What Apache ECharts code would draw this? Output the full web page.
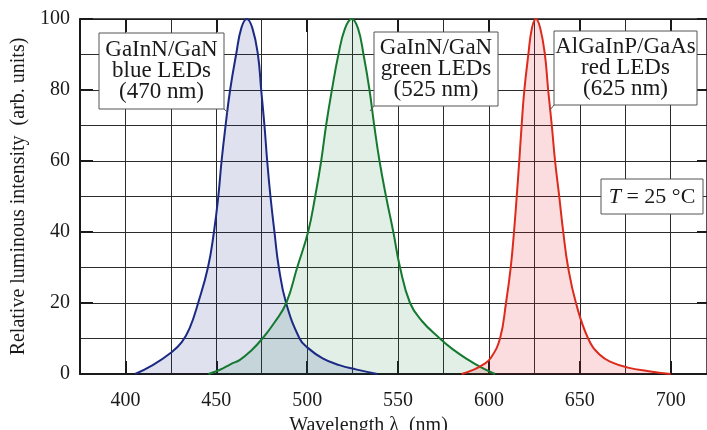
<!DOCTYPE html>
<html>
<head>
<meta charset="utf-8">
<script src="https://cdn.jsdelivr.net/npm/echarts@6/dist/echarts.min.js"></script>
<style>
  html, body { margin: 0; padding: 0; background: #fff; }
  #chart { width: 707px; height: 430px; }
</style>
</head>
<body>
<div id="chart"></div>
<script>
  // wavelength (nm) / relative intensity
  const blueWl = [405.3, 415, 425, 431, 435.4, 440, 445.4, 448.7, 451.1, 452.9, 455.1, 457.6, 460.9, 463.8, 466.8, 469.8, 472.9, 474.7, 476.5, 478, 479.8, 482, 484.4, 488.4, 495.8, 500, 508.5, 517.7, 526.8, 538.7]
  const blueInt = [0, 2.5, 6, 9, 13, 20, 30, 40, 50, 60, 70, 80, 90, 97.5, 100, 97.5, 90, 80, 70, 60, 50, 40, 30, 20, 10, 7.5, 4.4, 2.5, 1.3, 0]

  const greenWl = [445.7, 452, 458, 463, 469, 475.4, 482, 488.5, 494.5, 500.5, 504.4, 507.7, 510.4, 513.6, 517.2, 520.8, 524.5, 528, 531, 534.3, 536.9, 539.8, 543.4, 547.4, 551.1, 556.6, 563, 573, 580, 588, 596, 603.4]
  const greenInt = [0, 1.2, 2.8, 4, 6.5, 10, 14.5, 20, 30, 40, 50, 60, 70, 80, 90, 97.3, 100, 97.3, 90, 80, 70, 60, 50, 40, 30, 20, 15, 10, 7, 4.2, 1.8, 0]

  const redWl = [585, 592, 597, 601, 606.1, 609.4, 612, 613.8, 615.3, 616.7, 618, 619.5, 621.7, 623.7, 625.9, 628.2, 630.8, 632.6, 634.6, 636.4, 638.7, 640.9, 643.6, 647.9, 654.6, 661, 668, 676.5, 688, 700]
  const redInt = [0, 1.3, 2.7, 4.5, 10, 20, 30, 40, 50, 60, 70, 80, 90, 97.5, 100, 97.5, 90, 80, 70, 60, 50, 40, 30, 20, 10, 5.4, 3.2, 1.8, 0.8, 0]

  const xTickValues = [400, 450, 500, 550, 600, 650, 700]

  const font = 'Liberation Serif'
  const ink = '#1a1a1a'

  function pairs (xs, ys) {
    return xs.map((x, i) => [x, ys[i]])
  }

  function spectrum (data, line, fill, fillOpacity) {
    return {
      type: 'line',
      data: data,
      smooth: 0.45,
      showSymbol: false,
      clip: true,
      lineStyle: { color: line, width: 2 },
      areaStyle: { color: fill, opacity: fillOpacity },
      z: 3
    }
  }

  function labelBox (x, y, w, h, text, leader) {
    const items = [
      {
        type: 'rect',
        shape: { x: x, y: y, width: w, height: h },
        style: { fill: '#fff', stroke: '#555', lineWidth: 1 },
        z: 100
      },
      {
        type: 'text',
        x: x + w / 2,
        y: y + h / 2,
        style: {
          text: text,
          fill: ink,
          font: '23px "Liberation Serif"',
          align: 'center',
          verticalAlign: 'middle',
          lineHeight: 21
        },
        z: 101
      }
    ]
    if (leader) {
      items.push({
        type: 'line',
        shape: { x1: leader[0], y1: leader[1], x2: leader[2], y2: leader[3] },
        style: { stroke: '#555', lineWidth: 1 },
        z: 100
      })
    }
    return items
  }

  const gridLine = { show: true, lineStyle: { color: '#2b2b2b', width: 1 } }

  const chart = echarts.init(document.getElementById('chart'))
  const option = {
    animation: false,
    textStyle: { fontFamily: font },
    grid: { left: 80, top: 19, width: 627, height: 355, outerBoundsMode: 'none', containLabel: false },
    xAxis: [
      {
        type: 'value',
        min: 375,
        max: 720,
        interval: 25,
        position: 'bottom',
        axisLine: { show: true, lineStyle: { color: ink, width: 2 } },
        axisTick: { show: false },
        axisLabel: { show: false },
        splitLine: gridLine
      },
      {
        type: 'value',
        min: 375,
        max: 720,
        position: 'bottom',
        axisLine: { show: false },
        axisTick: {
          show: true,
          inside: true,
          length: 13,
          customValues: xTickValues,
          lineStyle: { color: ink, width: 2 }
        },
        axisLabel: { customValues: xTickValues, color: ink, fontSize: 20, fontFamily: font, margin: 17 },
        splitLine: { show: false },
        name: 'Wavelength λ  (nm)',
        nameLocation: 'middle',
        nameGap: 37,
        nameTextStyle: { color: ink, fontSize: 20, fontFamily: font, padding: [0, 50, 0, 0] }
      },
      {
        type: 'value',
        min: 375,
        max: 720,
        position: 'top',
        axisLine: { show: true, lineStyle: { color: ink, width: 1.5 } },
        axisTick: {
          show: true,
          inside: true,
          length: 13,
          customValues: xTickValues,
          lineStyle: { color: ink, width: 2 }
        },
        axisLabel: { show: false },
        splitLine: { show: false }
      }
    ],
    yAxis: [
      {
        type: 'value',
        min: 0,
        max: 100,
        interval: 20,
        position: 'left',
        axisLine: { show: true, lineStyle: { color: ink, width: 2 } },
        axisTick: { show: true, inside: true, length: 13, lineStyle: { color: ink, width: 2 } },
        axisLabel: { color: ink, fontSize: 20, fontFamily: font, margin: 10 },
        splitLine: gridLine,
        minorTick: { show: false, splitNumber: 2 },
        minorSplitLine: gridLine,
        name: 'Relative luminous intensity  (arb. units)',
        nameLocation: 'middle',
        nameGap: 43,
        nameTextStyle: { color: ink, fontSize: 20, fontFamily: font }
      },
      {
        type: 'value',
        min: 0,
        max: 100,
        interval: 20,
        position: 'right',
        axisLine: { show: true, lineStyle: { color: ink, width: 1.5 } },
        axisTick: { show: true, inside: true, length: 10, lineStyle: { color: ink, width: 2 } },
        axisLabel: { show: false },
        splitLine: { show: false }
      }
    ],
    series: [
      spectrum(pairs(blueWl, blueInt), '#1b2a84', '#1e288c', 0.14),
      spectrum(pairs(greenWl, greenInt), '#157a30', '#14783a', 0.12),
      spectrum(pairs(redWl, redInt), '#dc2b1c', '#e61e28', 0.15)
    ],
    graphic: [].concat(
      labelBox(99, 33, 125, 76, 'GaInN/GaN\nblue LEDs\n(470 nm)', [224, 109, 228, 113]),
      labelBox(374, 32, 124, 74, 'GaInN/GaN\ngreen LEDs\n(525 nm)', [374, 106, 370, 111]),
      labelBox(554, 31, 143, 74, 'AlGaInP/GaAs\nred LEDs\n(625 nm)', [554, 105, 550, 110]),
      [
        {
          type: 'rect',
          shape: { x: 601, y: 179, width: 102, height: 35 },
          style: { fill: '#fff', stroke: '#555', lineWidth: 1 },
          z: 100
        },
        {
          type: 'text',
          x: 652,
          y: 197,
          style: {
            text: '{i|T} = 25 °C',
            fill: ink,
            font: '22px "Liberation Serif"',
            align: 'center',
            verticalAlign: 'middle',
            rich: {
              i: { fontStyle: 'italic', fontSize: 22, fontFamily: font, fill: ink }
            }
          },
          z: 101
        }
      ]
    )
  }
  chart.setOption(option, true)
</script>
</body>
</html>
